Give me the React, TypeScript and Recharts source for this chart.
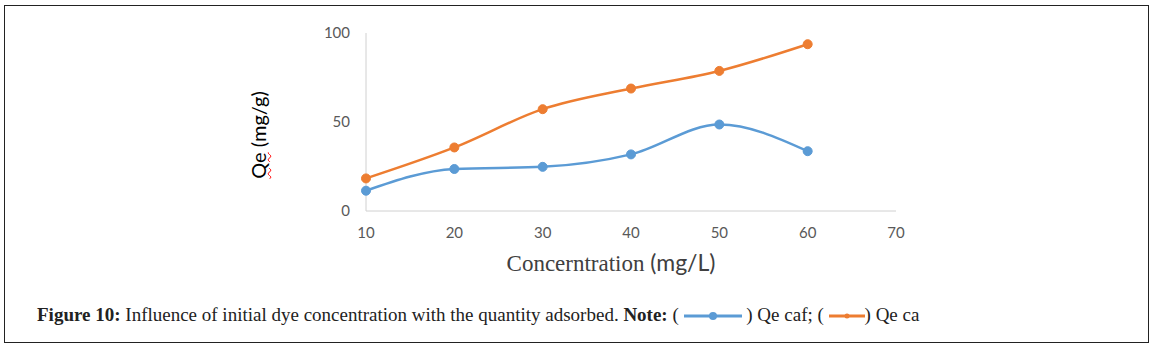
import React from "react";
import { LineChart, Line, XAxis, YAxis } from "recharts";

const concentration = [10, 20, 30, 40, 50, 60];
const qeCaf = [11.4, 23.6, 24.8, 31.8, 48.6, 33.6];
const qeCa = [18.3, 35.7, 57.2, 68.8, 78.7, 93.7];
const xTicks = [10, 20, 30, 40, 50, 60, 70];
const yTicks = [0, 50, 100];

const data = concentration.map((c, i) => ({ c, caf: qeCaf[i], ca: qeCa[i] }));

const BLUE = "#5B9BD5";
const ORANGE = "#ED7D31";
const tickStyle = { fill: "#595959", fontSize: 15, fontFamily: "Lato, sans-serif" };

function LegendSwatch({ color, w, r }: { color: string; w: number; r: number }) {
  return (
    <svg width={w} height={12} style={{ verticalAlign: "-1px" }}>
      <line x1={0} y1={6} x2={w} y2={6} stroke={color} strokeWidth={3} />
      <circle cx={w / 2} cy={6} r={r} fill={color} />
    </svg>
  );
}

export default function App() {
  return (
    <div style={{ position: "absolute", left: 0, top: 0, width: 1154, height: 350, background: "#fff" }}>
      <div
        style={{
          position: "absolute",
          left: 4,
          top: 5,
          width: 1143,
          height: 336,
          border: "1px solid #222",
        }}
      />
      <div style={{ position: "absolute", left: 0, top: 0 }}>
        <LineChart width={1154} height={350} data={data} margin={{ top: 33, right: 258, bottom: 109, left: 306 }}>
          <XAxis
            dataKey="c"
            type="number"
            domain={[10, 70]}
            ticks={xTicks}
            height={30}
            stroke="#d0d0d0"
            tickLine={false}
            tickSize={0}
            tickMargin={16}
            tick={tickStyle}
          />
          <YAxis
            type="number"
            domain={[0, 100]}
            ticks={yTicks}
            width={60}
            stroke="#d0d0d0"
            tickLine={false}
            tickSize={0}
            tickMargin={16}
            tick={tickStyle}
          />
          <Line
            type="monotone"
            dataKey="caf"
            stroke={BLUE}
            strokeWidth={2.5}
            dot={{ r: 4.5, fill: BLUE, stroke: BLUE, strokeWidth: 1 }}
            isAnimationActive={false}
          />
          <Line
            type="monotone"
            dataKey="ca"
            stroke={ORANGE}
            strokeWidth={2.5}
            dot={{ r: 4.5, fill: ORANGE, stroke: ORANGE, strokeWidth: 1 }}
            isAnimationActive={false}
          />
        </LineChart>
      </div>
      <div
        style={{
          position: "absolute",
          left: 258,
          top: 135,
          transform: "translate(-50%, -50%) rotate(-90deg)",
          whiteSpace: "nowrap",
          fontFamily: "Lato, sans-serif",
          fontSize: 20,
          color: "#000",
        }}
      >
        <span style={{ textDecoration: "underline wavy red 1px" }}>Qe</span> (mg/g)
      </div>
      <div
        style={{
          position: "absolute",
          left: 611,
          top: 262,
          transform: "translate(-50%, -50%)",
          whiteSpace: "nowrap",
          fontSize: 23,
          color: "#404040",
        }}
      >
        <span style={{ fontFamily: "'Liberation Serif', serif" }}>Concerntration </span>
        <span style={{ fontFamily: "Lato, sans-serif" }}>(mg/L)</span>
      </div>
      <div
        style={{
          position: "absolute",
          left: 37,
          top: 304,
          whiteSpace: "nowrap",
          fontFamily: "'Liberation Serif', serif",
          fontSize: 19,
          color: "#222",
        }}
      >
        <b>Figure 10:</b> Influence of initial dye concentration with the quantity adsorbed. <b>Note:</b> ({" "}
        <LegendSwatch color={BLUE} w={58} r={4} /> ) Qe caf; ( <LegendSwatch color={ORANGE} w={36} r={2.5} />) Qe ca
      </div>
    </div>
  );
}
